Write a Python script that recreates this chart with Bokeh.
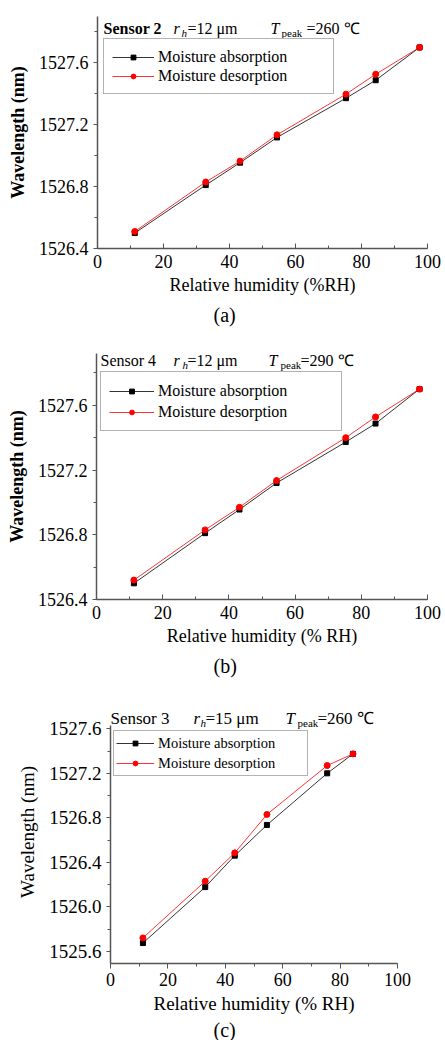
from bokeh.plotting import figure
from bokeh.models import (Legend, LegendItem, Label, Title, SingleIntervalTicker,
                          PrintfTickFormatter, Range1d)
from bokeh.embed import file_html
from bokeh.resources import INLINE

SERIF = "Liberation Serif, Times New Roman, serif"

# ---------------- data ----------------
# (a) Sensor 2
rh_a = [11.3, 32.8, 43.2, 54.4, 75.3, 84.3, 97.6]
wl_a_abs = [1526.50, 1526.81, 1526.955, 1527.118, 1527.372, 1527.488, 1527.70]
wl_a_des = [1526.51, 1526.83, 1526.965, 1527.135, 1527.398, 1527.527, 1527.70]
# (b) Sensor 4
rh_b = [11.3, 32.8, 43.2, 54.4, 75.3, 84.3, 97.6]
wl_b_abs = [1526.50, 1526.81, 1526.956, 1527.12, 1527.373, 1527.487, 1527.70]
wl_b_des = [1526.52, 1526.83, 1526.97, 1527.135, 1527.40, 1527.528, 1527.70]
# (c) Sensor 3
rh_c = [11.3, 33.0, 43.3, 54.5, 75.5, 84.5]
wl_c_abs = [1525.674, 1526.177, 1526.46, 1526.736, 1527.20, 1527.375]
wl_c_des = [1525.72, 1526.23, 1526.485, 1526.83, 1527.27, 1527.375]

series_names = ["Moisture absorption", "Moisture desorption"]
x_label = ["Relative humidity (%RH)", "Relative humidity (% RH)", "Relative humidity (% RH)"]
y_label = "Wavelength (nm)"
captions = ["(a)", "(b)", "(c)"]
titles = [
    [("Sensor 2", "bold"), ("r", "italic"), ("h", "italic"), ("=12 \u03bcm", "normal"),
     ("T", "italic"), ("peak", "normal"), ("=260 \u2103", "normal")],
    [("Sensor 4", "normal"), ("r", "italic"), ("h", "italic"), ("=12 \u03bcm", "normal"),
     ("T", "italic"), ("peak", "normal"), ("=290 \u2103", "normal")],
    [("Sensor 3", "normal"), ("r", "italic"), ("h", "italic"), ("=15 \u03bcm", "normal"),
     ("T", "italic"), ("peak", "normal"), ("=260 \u2103", "normal")],
]

AXIS_COLOR = "#555555"


def make_panel(rh, wl_abs, wl_des, y_start, y_end, cfg, title_parts, xlab, cap):
    p = figure(output_backend="svg", toolbar_location=None,
               frame_width=cfg["fw"], frame_height=cfg["fh"],
               min_border_left=cfg["bl"], min_border_right=cfg["br"],
               min_border_top=cfg["bt"], min_border_bottom=cfg["bb"],
               x_range=Range1d(0, 100), y_range=Range1d(y_start, cfg.get("view_end", y_end)),
               background_fill_color="white", border_fill_color="white",
               outline_line_color=None)
    p.xgrid.visible = False
    p.ygrid.visible = False

    # axes
    xa = p.xaxis[0]
    xa.ticker = SingleIntervalTicker(interval=20, num_minor_ticks=2)
    ya = p.yaxis[0]
    ya.ticker = SingleIntervalTicker(interval=0.4, num_minor_ticks=2)
    ya.formatter = PrintfTickFormatter(format="%.1f")
    ya.bounds = (y_start, y_end)
    for ax in (xa, ya):
        ax.axis_line_color = AXIS_COLOR
        ax.axis_line_width = 1.5
        ax.major_tick_line_color = AXIS_COLOR
        ax.minor_tick_line_color = AXIS_COLOR
        ax.major_label_text_font = SERIF
        ax.major_label_text_font_style = "normal"
        ax.major_label_text_color = "black"
        ax.axis_label_text_font = SERIF
        ax.axis_label_text_font_style = "normal"
        ax.axis_label_text_color = "black"
    xa.major_label_text_font_size = cfg["tick_fs"]
    ya.major_label_text_font_size = cfg["ytick_fs"]
    xa.axis_label = xlab
    ya.axis_label = y_label
    xa.axis_label_text_font_size = cfg["lab_fs"]
    ya.axis_label_text_font_size = cfg["lab_fs"]
    ya.axis_label_text_font_style = cfg["ylab_style"]
    ya.major_tick_in, ya.major_tick_out = 0, 4
    ya.minor_tick_in, ya.minor_tick_out = 0, 3
    if cfg["xticks_in"]:
        xa.major_tick_in, xa.major_tick_out = 5, 0
        xa.minor_tick_in, xa.minor_tick_out = 3, 0
    else:
        xa.major_tick_in, xa.major_tick_out = 0, 5
        xa.minor_tick_in, xa.minor_tick_out = 0, 3
    xa.major_label_standoff = cfg["xstand"]
    xa.axis_label_standoff = cfg["xlstand"]
    ya.major_label_standoff = 5
    ya.axis_label_standoff = 8

    # data
    l1 = p.line(rh, wl_abs, line_color="black", line_width=0.8)
    s1 = p.scatter(rh, wl_abs, marker="square", size=5, fill_color="black", line_color="black")
    l2 = p.line(rh, wl_des, line_color="red", line_width=0.8)
    s2 = p.scatter(rh, wl_des, marker="circle", size=6, fill_color="red", line_color="red")

    leg = Legend(items=[LegendItem(label=series_names[0], renderers=[l1, s1]),
                        LegendItem(label=series_names[1], renderers=[l2, s2])],
                 location=cfg["leg_loc"], orientation="vertical",
                 label_text_font=SERIF, label_text_font_size=cfg["leg_fs"],
                 label_text_color="black",
                 padding=cfg["leg_pad"], spacing=0, margin=0,
                 glyph_width=cfg["leg_gw"], glyph_height=12,
                 label_height=cfg["leg_lh"], label_width=cfg["leg_lw"],
                 label_standoff=4,
                 border_line_color="#666666", border_line_width=1,
                 background_fill_color="white", background_fill_alpha=1.0)
    p.add_layout(leg, "center")

    # title pieces (sub/italics as separate labels)
    top = cfg.get("view_end", y_end)
    for (txt, style), (dx, dy, fs) in zip(title_parts, cfg["title_pos"]):
        p.add_layout(Label(x=0, y=top, x_offset=dx, y_offset=dy, text=txt,
                           text_font=SERIF, text_font_size=fs,
                           text_font_style=style, text_color="black",
                           text_baseline="alphabetic", text_align="left"))

    # caption below
    p.add_layout(Title(text=cap, align="left", offset=cfg["cap_off"],
                       text_font=SERIF, text_font_size="20px",
                       text_font_style="normal", text_color="black",
                       standoff=cfg["cap_stand"]), "below")
    return p


def tpos(base, xs, fs, sub_fs):
    # x offsets for: name, r, h, =.., T, peak, =..
    b = base
    return [(xs[0], b, fs), (xs[1], b, fs), (xs[2], b - 4, sub_fs), (xs[3], b, fs),
            (xs[4], b, fs), (xs[5], b - 4, sub_fs), (xs[6], b, fs)]


cfg_a = dict(fw=330, fh=232, bl=97, br=18, bt=16, bb=97,
             tick_fs="18px", ytick_fs="18px", lab_fs="18px", ylab_style="bold",
             xticks_in=True, xstand=6, xlstand=4,
             leg_loc=(6, 154), leg_fs="16px", leg_pad=8, leg_gw=42, leg_lh=19, leg_lw=167,
             title_pos=tpos(-12, [6, 76, 84, 90, 173, 184, 209], "16px", "11px"),
             cap_off=116, cap_stand=8)
cfg_b = dict(fw=331, fh=246, bl=96, br=18, bt=8, bb=101,
             tick_fs="18px", ytick_fs="18px", lab_fs="18px", ylab_style="bold",
             xticks_in=True, xstand=6, xlstand=4,
             leg_loc=(4, 168), leg_fs="16px", leg_pad=8, leg_gw=45, leg_lh=21, leg_lw=175,
             title_pos=tpos(-7, [4, 77, 86, 91, 172, 184, 204], "16px", "11px"),
             cap_off=117, cap_stand=8)
cfg_c = dict(fw=287, fh=263, bl=110, br=48, bt=0, bb=77, view_end=1527.855,
             tick_fs="18px", ytick_fs="19px", lab_fs="19px", ylab_style="normal",
             xticks_in=False, xstand=4, xlstand=4,
             leg_loc=(3, 187), leg_fs="14.5px", leg_pad=2, leg_gw=38, leg_lh=20, leg_lw=147,
             title_pos=tpos(-18, [0, 83, 90, 95, 175, 187, 207], "17px", "11px"),
             cap_off=103, cap_stand=0)

pa = make_panel(rh_a, wl_a_abs, wl_a_des, 1526.4, 1527.9, cfg_a, titles[0], x_label[0], captions[0])
pb = make_panel(rh_b, wl_b_abs, wl_b_des, 1526.4, 1527.92, cfg_b, titles[1], x_label[1], captions[1])
pc = make_panel(rh_c, wl_c_abs, wl_c_des, 1525.49, 1527.63, cfg_c, titles[2], x_label[2], captions[2])

# three independent roots (stacked), so that their frames are not aligned
open("out.html", "w").write(file_html([pa, pb, pc], INLINE))
